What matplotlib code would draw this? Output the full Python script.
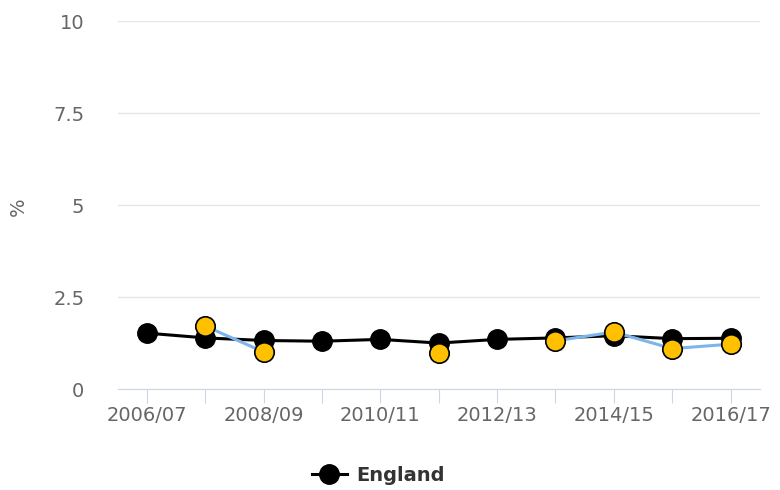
import numpy as np
import matplotlib.pyplot as plt

plt.rcParams["font.family"] = ["DejaVu Sans"]

years = ["2006/07", "2007/08", "2008/09", "2009/10", "2010/11", "2011/12",
         "2012/13", "2013/14", "2014/15", "2015/16", "2016/17"]
england = [1.52, 1.39, 1.32, 1.30, 1.35, 1.25, 1.35, 1.39, 1.45, 1.37, 1.38]
local = [np.nan, 1.71, 1.01, np.nan, np.nan, 0.97, np.nan, 1.31, 1.55, 1.10, 1.22]
y_ticks = [0, 2.5, 5, 7.5, 10]
y_labels = ["0", "2.5", "5", "7.5", "10"]

fig = plt.figure(figsize=(7.8, 4.9), dpi=100)
ax = fig.add_axes([0.151, 0.206, 0.823, 0.751])
x = np.arange(len(years))

ax.plot(x, england, color="black", lw=2.2, marker="o", ms=14,
        mfc="black", mec="black", zorder=3, label="England")
ax.plot(x, local, color="#7cb5ec", lw=2.2, zorder=4)
ax.plot(x, local, ls="none", marker="o", ms=14, mfc="#ffc000",
        mec="black", mew=1.2, zorder=5)

ax.set_xlim(-0.5, len(years) - 0.5)
ax.set_ylim(0, 10)
ax.set_yticks(y_ticks)
ax.set_yticklabels(y_labels)
ax.set_xticks(x)
ax.set_xticklabels([y if i % 2 == 0 else "" for i, y in enumerate(years)])
ax.grid(axis="y", color="#e6e6e6", lw=1)
ax.set_axisbelow(True)
for s in ["top", "right", "left"]:
    ax.spines[s].set_visible(False)
ax.spines["bottom"].set_color("#ccd6eb")
ax.tick_params(axis="y", length=0, pad=24, labelsize=14, labelcolor="#666666")
ax.tick_params(axis="x", length=10, color="#ccd6eb", labelsize=14,
               labelcolor="#666666", pad=2)
fig.text(18 / 780, 1 - 207 / 490, "%", rotation=90, fontsize=14,
         color="#666666", ha="center", va="center")

leg = fig.legend(loc="center", bbox_to_anchor=(0.485, 1 - 475 / 490), frameon=False,
                 prop={"weight": "bold", "size": 14}, handlelength=1.8,
                 handletextpad=0.5)
for t in leg.get_texts():
    t.set_color("#333333")

fig.savefig("out.png", dpi=100)
